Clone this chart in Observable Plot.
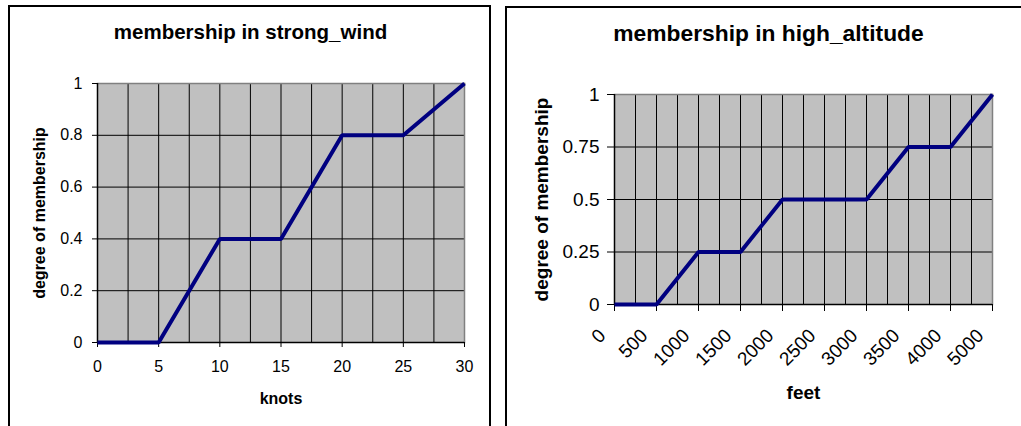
<!DOCTYPE html>
<html><head><meta charset="utf-8">
<script src="https://cdn.jsdelivr.net/npm/d3@7"></script>
<script src="https://cdn.jsdelivr.net/npm/@observablehq/plot@0.6"></script>
<style>
body{margin:0;background:#fff;width:1021px;height:426px;overflow:hidden;position:relative;font-family:"Liberation Sans",Arial,sans-serif;}
.box{position:absolute;border:2px solid #000;box-sizing:border-box;}
.chart{position:absolute;top:0;}
</style></head><body>
<div class="box" style="left:8px;top:5px;width:483px;height:440px"></div>
<div class="box" style="left:505px;top:6px;width:540px;height:440px"></div>
<div id="c1" class="chart" style="left:0px"></div>
<div id="c2" class="chart" style="left:500px"></div>
<script>
// strong_wind chart data
const windKnots = [0, 5, 10, 15, 20, 25, 30];
const windMembership = [0, 0, 0.4, 0.4, 0.8, 0.8, 1];
const windXTicks = [0, 5, 10, 15, 20, 25, 30];
const windXGrid = [0, 2.5, 5, 7.5, 10, 12.5, 15, 17.5, 20, 22.5, 25, 27.5, 30];
const windYTicks = [0, 0.2, 0.4, 0.6, 0.8, 1];

// high_altitude chart data (category axis)
const altitudeLabels = ["0", "500", "1000", "1500", "2000", "2500", "3000", "3500", "4000", "5000"];
const altitudeMembership = [0, 0, 0.25, 0.25, 0.5, 0.5, 0.5, 0.75, 0.75, 1];
const altitudeGrid = [0, 0.5, 1, 1.5, 2, 2.5, 3, 3.5, 4, 4.5, 5, 5.5, 6, 6.5, 7, 7.5, 8, 8.5, 9];
const altitudeYTicks = [0, 0.25, 0.5, 0.75, 1];

const windData = windKnots.map((k, i) => ({x: k, y: windMembership[i]}));
const altIndex = altitudeLabels.map((_, i) => i);
const altData = altIndex.map(i => ({x: i, y: altitudeMembership[i]}));

const FONT = "Liberation Sans, Arial, sans-serif";

function chart({width, height, margin, xDomain, yDomain, xGrid, yGrid, data, xTicks, yTicks, xTickFormat,
  tick, title, xLabel, yLabel, geo}) {
  return Plot.plot({
    width, height,
    marginLeft: margin[0], marginRight: margin[1], marginTop: margin[2], marginBottom: margin[3],
    x: {domain: xDomain, axis: null},
    y: {domain: yDomain, axis: null},
    style: {fontFamily: FONT, fontSize: tick.fontSize + "px", color: "#000", background: "transparent", overflow: "visible"},
    marks: [
      Plot.frame({fill: "#c0c0c0"}),
      Plot.ruleX(xGrid, {stroke: "#000", strokeWidth: 1}),
      Plot.ruleY(yGrid, {stroke: "#000", strokeWidth: 1}),
      Plot.frame({anchor: "top", stroke: "#808080", strokeWidth: 1.5}),
      Plot.frame({anchor: "right", stroke: "#808080", strokeWidth: 1.5}),
      Plot.ruleY([yDomain[0]], {stroke: "#000", strokeWidth: 1.5}),
      Plot.ruleX([xDomain[0]], {stroke: "#000", strokeWidth: 1.5}),
      // x tick marks
      Plot.axisX({ticks: xTicks, tickFormat: () => "", tickSize: tick.xSize, label: null, stroke: "#000"}),
      // x tick labels
      Plot.axisX({ticks: xTicks, tickFormat: xTickFormat, tickSize: 0, tickPadding: tick.xSize + tick.xPad, tickRotate: tick.rotate || 0,
        label: null, fontSize: tick.fontSize, dx: tick.xdx || 0, dy: tick.xdy || 0}),
      Plot.axisY({ticks: yTicks, tickFormat: d => String(d), tickSize: tick.ySize, tickPadding: tick.yPad, label: null, fontSize: tick.fontSize, stroke: "#000"}),
      Plot.line(data, {x: "x", y: "y", stroke: "#000080", strokeWidth: 4, strokeLinejoin: "miter", strokeLinecap: "butt"}),
      Plot.text([title], {text: d => d, frameAnchor: "top", dx: geo.titleDx, dy: geo.titleDy, lineAnchor: "bottom",
        fontSize: geo.titleSize, fontWeight: "bold", fill: "#000"}),
      Plot.text([xLabel], {text: d => d, frameAnchor: "bottom", dy: geo.xLabelDy, lineAnchor: "bottom",
        fontSize: geo.labelSize, fontWeight: "bold", fill: "#000"}),
      Plot.text([yLabel], {text: d => d, frameAnchor: "left", textAnchor: "middle", dx: geo.yLabelDx, rotate: -90, lineAnchor: "middle",
        fontSize: geo.labelSize, fontWeight: "bold", fill: "#000"})
    ]
  });
}

document.getElementById("c1").append(chart({
  width: 500, height: 426, margin: [97, 36, 83, 84],
  xDomain: [0, 30], yDomain: [0, 1], xGrid: windXGrid, yGrid: windYTicks,
  data: windData, xTicks: windXTicks, yTicks: windYTicks, xTickFormat: d => String(d),
  tick: {fontSize: 16, xSize: 5, xPad: 13, ySize: 5, yPad: 10},
  title: "membership in strong_wind", xLabel: "knots", yLabel: "degree of membership",
  geo: {titleDx: -30.5, titleDy: -45, titleSize: 20.5, xLabelDy: 61, yLabelDx: -58, labelSize: 16}
}));

document.getElementById("c2").append(chart({
  width: 521, height: 426, margin: [114, 29, 94, 122],
  xDomain: [0, 9], yDomain: [0, 1], xGrid: altitudeGrid, yGrid: altitudeYTicks,
  data: altData, xTicks: altIndex, yTicks: altitudeYTicks, xTickFormat: i => altitudeLabels[i],
  tick: {fontSize: 19, xSize: 7, xPad: 8, ySize: 7, yPad: 8, rotate: -45, xdx: -12, xdy: 13},
  title: "membership in high_altitude", xLabel: "feet", yLabel: "degree of membership",
  geo: {titleDx: -35, titleDy: -54, titleSize: 22.8, xLabelDy: 94, yLabelDx: -73, labelSize: 19}
}));
</script>
</body></html>
